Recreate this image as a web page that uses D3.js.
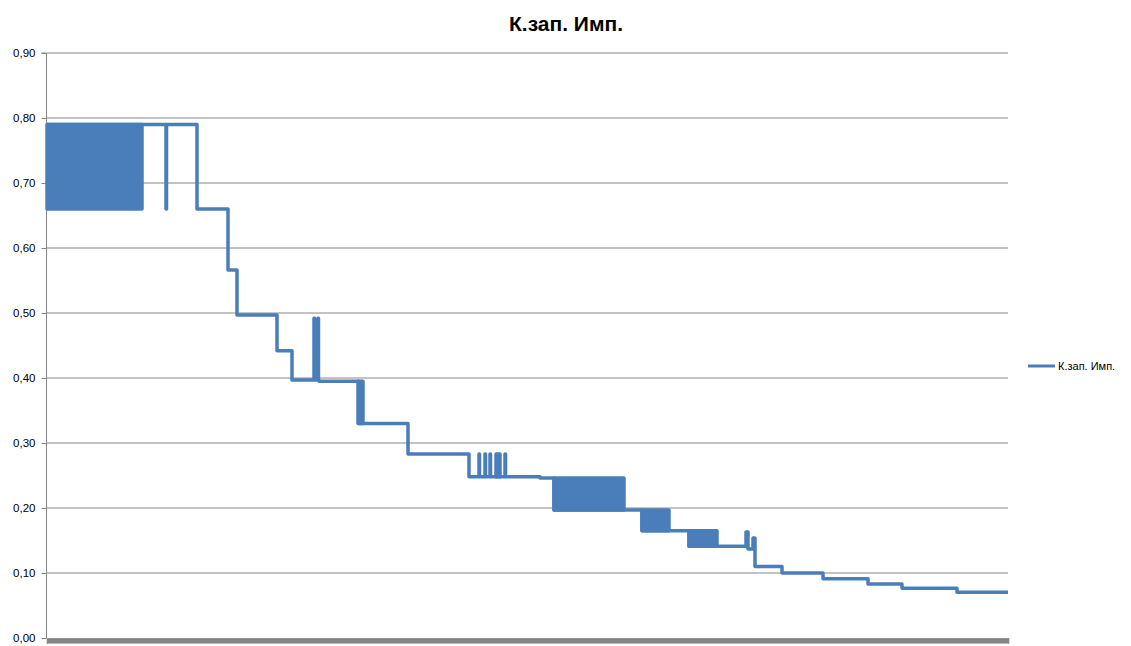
<!DOCTYPE html>
<html><head><meta charset="utf-8">
<script src="https://cdn.jsdelivr.net/npm/d3@7"></script>
<style>body{margin:0;background:#fff}svg{display:block}</style>
</head><body>
<svg id="c" width="1131" height="646"></svg>
<script>
const title = "К.зап. Имп.";
const seriesName = "К.зап. Имп.";
const yTicks = [0,0.1,0.2,0.3,0.4,0.5,0.6,0.7,0.8,0.9];
const yTickLabels = ["0,00","0,10","0,20","0,30","0,40","0,50","0,60","0,70","0,80","0,90"];
const sampleCount = 961;
// step line: sample index where each level starts, and the level
const stepX = [0,119,119.5,150,181,190,230,245,267,267.5,271,271.5,272,312,361,422,432,432.5,438,438.5,443,443.5,458,458.5,493,507,577,595,622,642,699,701,706,708,735,776,821,855,910,961];
const stepY = [0.79,0.66,0.79,0.66,0.566,0.497,0.442,0.397,0.492,0.397,0.492,0.397,0.395,0.33,0.283,0.248,0.283,0.248,0.283,0.248,0.283,0.248,0.283,0.248,0.246,0.197,0.197,0.165,0.165,0.141,0.163,0.137,0.154,0.11,0.10,0.091,0.083,0.0765,0.0705,0.0705];
// dense oscillation blocks
const bandX0 = [0,311,449,507,595,642];
const bandX1 = [95,316,453,577,622,670];
const bandHi = [0.79,0.395,0.283,0.246,0.197,0.165];
const bandLo = [0.66,0.33,0.248,0.197,0.165,0.141];

const color = "#4a7ebb", grid = "#868686";
const svg = d3.select("#c");
const mLeft = 47, mRight = 1008, mTop = 53, mBottom = 638;
const x = d3.scaleLinear().domain([0, sampleCount]).range([mLeft, mRight]);
const y = d3.scaleLinear().domain([0, 0.9]).range([mBottom, mTop]);

// gridlines
svg.append("g").selectAll("line").data(yTicks.filter(d => d > 0)).join("line")
  .attr("x1", mLeft).attr("x2", mRight)
  .attr("y1", d => y(d)).attr("y2", d => y(d))
  .attr("stroke", grid).attr("stroke-width", 1);

// y axis
const yAxis = d3.axisLeft(y).tickValues(yTicks).tickSize(5).tickPadding(6)
  .tickFormat((d, i) => yTickLabels[i]);
const gy = svg.append("g").attr("transform", `translate(${mLeft - 0.5},0)`).call(yAxis);
gy.select(".domain").attr("stroke", grid).attr("d", `M-5,${mTop}H0V${mBottom}`);
gy.selectAll(".tick line").attr("stroke", grid);
gy.selectAll("text").attr("fill", "#000").style("font-family", "'Liberation Sans', Arial, sans-serif").style("font-size", "11.5px");

// x axis (dense category ticks)
const xAxis = d3.axisBottom(x).tickValues(d3.range(0, sampleCount + 1)).tickSize(5).tickFormat("");
const gx = svg.append("g").attr("transform", `translate(0,${mBottom + 0.5})`).call(xAxis);
gx.select(".domain").attr("stroke", grid).attr("stroke-width", 1.5);
gx.selectAll(".tick line").attr("stroke", grid).attr("stroke-width", 1.2);

// bands
svg.append("g").selectAll("rect").data(bandX0).join("rect")
  .attr("x", (d, i) => x(d)).attr("width", (d, i) => x(bandX1[i]) - x(d))
  .attr("y", (d, i) => y(bandHi[i])).attr("height", (d, i) => y(bandLo[i]) - y(bandHi[i]))
  .attr("fill", color).attr("stroke", color).attr("stroke-width", 3.5).attr("stroke-linejoin", "round");

// line
const pts = stepX.map((d, i) => [d, stepY[i]]);
const line = d3.line().x(d => x(d[0])).y(d => y(d[1])).curve(d3.curveStepAfter);
svg.append("path").attr("d", line(pts)).attr("fill", "none")
  .attr("stroke", color).attr("stroke-width", 3.5).attr("stroke-linejoin", "round").attr("stroke-linecap", "butt");

// title
svg.append("text").attr("x", 566).attr("y", 31).attr("text-anchor", "middle")
  .style("font-family", "'Liberation Sans', Arial, sans-serif").style("font-size", "21px").style("font-weight", "bold")
  .text(title);

// legend
svg.append("line").attr("x1", 1028).attr("x2", 1055).attr("y1", 366).attr("y2", 366)
  .attr("stroke", color).attr("stroke-width", 3);
svg.append("text").attr("x", 1058).attr("y", 370)
  .style("font-family", "'Liberation Sans', Arial, sans-serif").style("font-size", "11px")
  .text(seriesName);
</script>
</body></html>
